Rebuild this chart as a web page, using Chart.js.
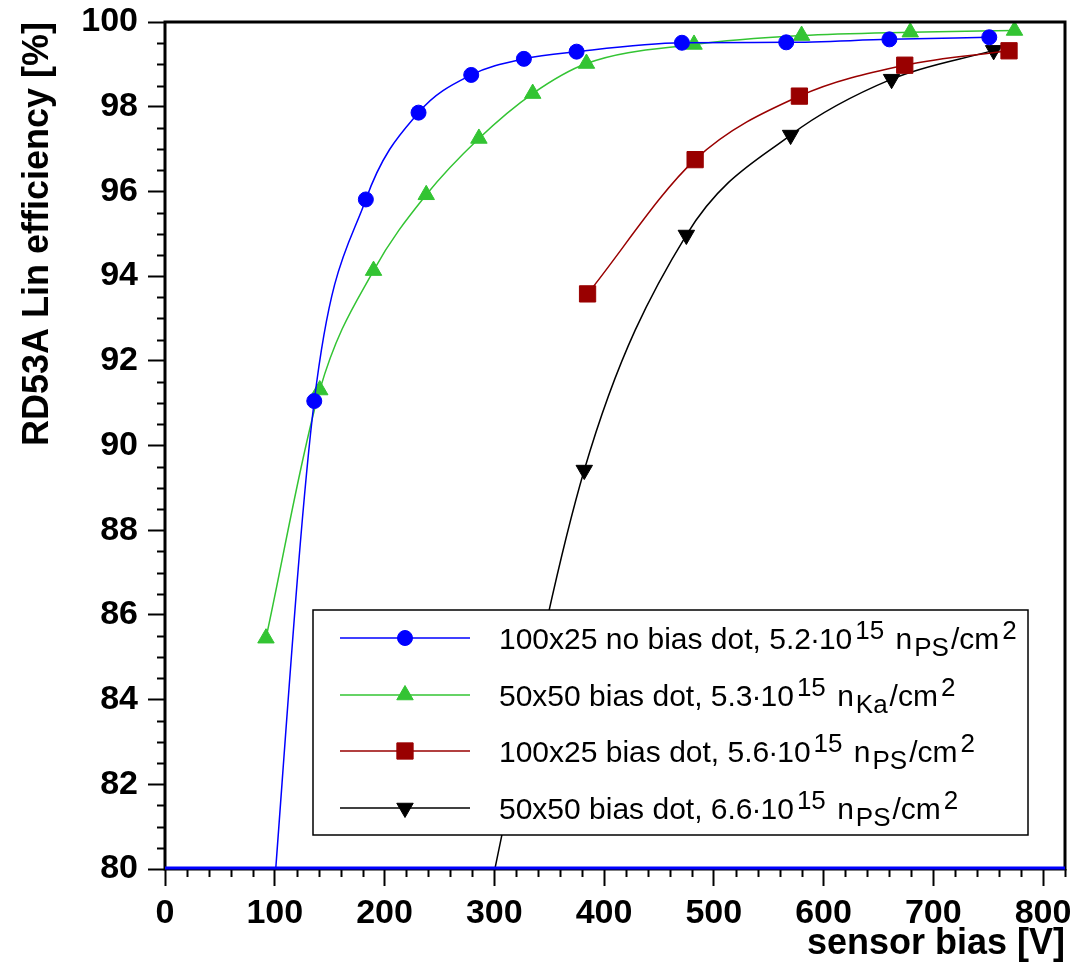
<!DOCTYPE html>
<html>
<head>
<meta charset="utf-8">
<title>RD53A Lin efficiency vs sensor bias</title>
<script src="https://cdn.jsdelivr.net/npm/chart.js@4.4.1/dist/chart.umd.min.js"></script>
<style>
  html, body { margin: 0; padding: 0; background: #fff; }
  #wrap { position: relative; width: 1089px; height: 968px; }
</style>
</head>
<body>
<div id="wrap"><canvas id="effChart" width="1089" height="968"></canvas></div>
<script>
// sensor bias [V] / efficiency [%]
// (first blue point and first black point sit below the 80% axis floor)
const biasNoDot100x25 = [92, 136, 183, 231, 279, 327, 375, 471, 566, 660, 751];
const effNoDot100x25 = [77, 91.05, 95.81, 97.86, 98.75, 99.13, 99.30, 99.51, 99.52, 99.59, 99.64];

const biasDot50x50Ka = [92, 141, 190, 238, 286, 335, 384, 482, 580, 679, 774];
const effDot50x50Ka = [85.45, 91.31, 94.13, 95.92, 97.25, 98.31, 99.02, 99.47, 99.68, 99.76, 99.80];

const biasDot100x25 = [385, 483, 578, 674, 769];
const effDot100x25 = [93.58, 96.75, 98.25, 98.98, 99.32];

const biasDot50x50 = [280, 382, 475, 570, 662, 755];
const effDot50x50 = [77.5, 89.42, 94.97, 97.33, 98.65, 99.33];

const xTickValues = [0, 100, 200, 300, 400, 500, 600, 700, 800];
const yTickValues = [80, 82, 84, 86, 88, 90, 92, 94, 96, 98, 100];

// legend text pieces: [text, 'sup' | 'sub' | 'dot' | undefined]
const legendLabels = [
  [['100x25 no bias dot, 5.2'], ['\u00b7', 'dot'], ['10'], ['15', 'sup'], [' n'], ['PS', 'sub'], ['/cm'], ['2', 'sup']],
  [['50x50 bias dot, 5.3'], ['\u00b7', 'dot'], ['10'], ['15', 'sup'], [' n'], ['Ka', 'sub'], ['/cm'], ['2', 'sup']],
  [['100x25 bias dot, 5.6'], ['\u00b7', 'dot'], ['10'], ['15', 'sup'], [' n'], ['PS', 'sub'], ['/cm'], ['2', 'sup']],
  [['50x50 bias dot, 6.6'], ['\u00b7', 'dot'], ['10'], ['15', 'sup'], [' n'], ['PS', 'sub'], ['/cm'], ['2', 'sup']]
];

const FONT = "'Liberation Sans', Arial, Helvetica, sans-serif";
Chart.defaults.font.family = FONT;
Chart.defaults.color = '#000';

function toPoints(xs, ys) {
  return xs.map((x, i) => ({ x: x, y: ys[i] }));
}

function series(data, color, style, radius, rotation) {
  return {
    data: data,
    borderColor: color,
    backgroundColor: color,
    pointBackgroundColor: color,
    pointBorderColor: color,
    borderWidth: 1.5,
    pointStyle: style,
    pointRadius: radius,
    pointRotation: rotation || 0,
    pointBorderWidth: 1,
    cubicInterpolationMode: 'monotone',
    showLine: true
  };
}

// frame, blue floor line and minor ticks
const framePlugin = {
  id: 'frame',
  afterDraw(chart) {
    const { ctx, chartArea: a, scales } = chart;
    const xs = scales.x, ys = scales.y;
    ctx.save();
    ctx.strokeStyle = '#000';
    ctx.lineWidth = 2;
    for (let v = 0; v <= 820; v += 20) {
      if (v % 100 === 0) continue;
      const px = Math.round(xs.getPixelForValue(v)) + 0.5;
      ctx.beginPath();
      ctx.moveTo(px, a.bottom);
      ctx.lineTo(px, a.bottom + 8);
      ctx.stroke();
    }
    for (let v = 80; v <= 100; v += 0.5) {
      if (v % 2 === 0) continue;
      const py = Math.round(ys.getPixelForValue(v)) + 0.5;
      ctx.beginPath();
      ctx.moveTo(a.left, py);
      ctx.lineTo(a.left - 8, py);
      ctx.stroke();
    }
    ctx.lineWidth = 3;
    ctx.strokeRect(a.left, a.top, a.right - a.left, a.bottom - a.top);
    ctx.strokeStyle = '#0000ff';
    ctx.lineWidth = 3;
    const yb = ys.getPixelForValue(80) - 1;
    ctx.beginPath();
    ctx.moveTo(xs.getPixelForValue(0), yb);
    ctx.lineTo(xs.getPixelForValue(820), yb);
    ctx.stroke();
    ctx.restore();
  }
};

// ROOT-style legend box with super/subscripts
const legendPlugin = {
  id: 'rootLegend',
  afterDraw(chart) {
    const ctx = chart.ctx;
    const box = { x: 313, y: 610, w: 715, h: 225 };
    const rowY = [638, 695, 751, 808];
    ctx.save();
    ctx.fillStyle = '#fff';
    ctx.fillRect(box.x, box.y, box.w, box.h);
    ctx.strokeStyle = '#000';
    ctx.lineWidth = 1.5;
    ctx.strokeRect(box.x, box.y, box.w, box.h);
    chart.data.datasets.forEach((ds, i) => {
      const y = rowY[i];
      ctx.strokeStyle = ds.borderColor;
      ctx.lineWidth = ds.borderWidth;
      ctx.beginPath();
      ctx.moveTo(340, y);
      ctx.lineTo(470, y);
      ctx.stroke();
      ctx.fillStyle = ds.pointBackgroundColor;
      ctx.strokeStyle = ds.pointBorderColor;
      ctx.lineWidth = 1;
      Chart.helpers.drawPoint(ctx, {
        pointStyle: ds.pointStyle,
        radius: ds.pointRadius,
        rotation: ds.pointRotation,
        borderWidth: 1
      }, 405, y);
      let x = 499;
      const base = y + 11;
      ctx.fillStyle = '#000';
      ctx.textBaseline = 'alphabetic';
      ctx.textAlign = 'left';
      legendLabels[i].forEach(([txt, mode]) => {
        let size = 30, dy = 0, gap = 0;
        if (mode === 'sup') { size = 26; dy = -10; gap = 3; }
        if (mode === 'sub') { size = 26; dy = 7; gap = 2; }
        if (mode === 'dot') { gap = -1; }
        ctx.font = size + 'px ' + FONT;
        x += gap;
        ctx.fillText(txt, x, base + dy);
        x += ctx.measureText(txt).width + gap;
      });
    });
    ctx.restore();
  }
};

const ctx = document.getElementById('effChart').getContext('2d');
const effChart = new Chart(ctx, {
  type: 'scatter',
  data: {
    datasets: [
      series(toPoints(biasNoDot100x25, effNoDot100x25), '#0000ff', 'circle', 7.5),
      series(toPoints(biasDot50x50Ka, effDot50x50Ka), '#33c433', 'triangle', 9.5),
      series(toPoints(biasDot100x25, effDot100x25), '#990000', 'rect', 11.5),
      series(toPoints(biasDot50x50, effDot50x50), '#000000', 'triangle', 9.5, 180)
    ]
  },
  options: {
    responsive: false,
    animation: false,
    layout: { padding: { left: 0, top: 22, right: 24, bottom: 0 } },
    plugins: {
      legend: { display: false },
      tooltip: { enabled: false }
    },
    scales: {
      x: {
        type: 'linear',
        min: 0,
        max: 820,
        afterFit(scale) {
          scale.height = 99;
          scale.paddingLeft = 0;
          scale.paddingRight = 0;
        },
        afterBuildTicks(scale) { scale.ticks = xTickValues.map(v => ({ value: v })); },
        border: { display: false },
        grid: {
          drawOnChartArea: false,
          drawTicks: true,
          tickLength: 17,
          tickWidth: 2,
          tickColor: '#000'
        },
        ticks: {
          autoSkip: false,
          maxRotation: 0,
          padding: 7,
          color: '#000',
          font: { size: 34, weight: 'bold' }
        },
        title: {
          display: true,
          text: 'sensor bias [V]',
          align: 'end',
          color: '#000',
          font: { size: 36, weight: 'bold' },
          padding: { top: 0, bottom: 2 }
        }
      },
      y: {
        type: 'linear',
        min: 80,
        max: 100,
        afterFit(scale) {
          scale.width = 165;
          scale.paddingTop = 0;
          scale.paddingBottom = 0;
        },
        afterBuildTicks(scale) { scale.ticks = yTickValues.map(v => ({ value: v })); },
        border: { display: false },
        grid: {
          drawOnChartArea: false,
          drawTicks: true,
          tickLength: 17,
          tickWidth: 2,
          tickColor: '#000'
        },
        ticks: {
          autoSkip: false,
          padding: 10,
          color: '#000',
          font: { size: 34, weight: 'bold' }
        },
        title: {
          display: true,
          text: 'RD53A Lin efficiency [%]',
          align: 'end',
          color: '#000',
          font: { size: 36, weight: 'bold' },
          padding: { top: 16, bottom: 0 }
        }
      }
    }
  },
  plugins: [framePlugin, legendPlugin]
});
</script>
</body>
</html>
